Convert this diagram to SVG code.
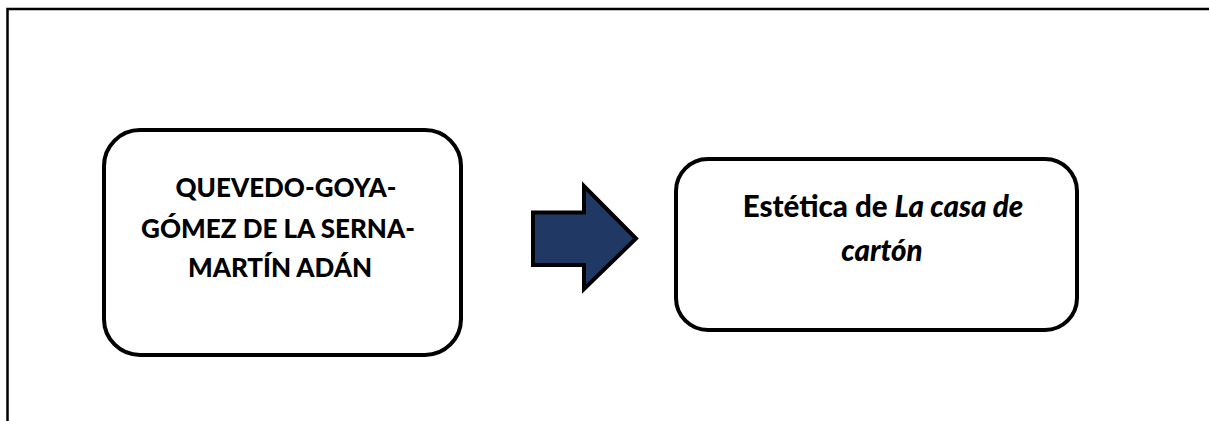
<svg xmlns="http://www.w3.org/2000/svg" width="1209" height="421" viewBox="0 0 1209 421">
  <style>
    .box { fill: #ffffff; stroke: #000000; stroke-width: 4; }
    .t { font-family: Lato, "Liberation Sans", sans-serif; font-weight: 900; font-size: 26px; fill: #000000; text-anchor: middle; }
    .t2 { font-size: 29.5px; }
    .frame { stroke: #000000; stroke-width: 2.5; fill: none; }
    .arrow { fill: #1F3864; stroke: #000000; stroke-width: 4; stroke-linejoin: miter; }
  </style>
  <rect x="0" y="0" width="1209" height="421" fill="#ffffff"/>
  <g id="frame">
    <polyline class="frame" points="7.5,421 7.5,9 1209,9"/>
  </g>
  <g id="node-left">
    <rect class="box" x="104" y="130" width="357" height="225" rx="36" ry="36"/>
    <text class="t" x="286" y="197">QUEVEDO-GOYA-</text>
    <text class="t" x="278" y="238">GÓMEZ DE LA SERNA-</text>
    <text class="t" x="280" y="277">MARTÍN ADÁN</text>
  </g>
  <g id="connectors">
    <polygon class="arrow" points="533,212.5 584,212.5 584,186 636,238.5 584,289 584,265 533,265"/>
  </g>
  <g id="node-right">
    <rect class="box" x="676" y="159" width="401" height="171" rx="32" ry="32"/>
    <text class="t t2" x="883" y="217">Estética de <tspan font-style="italic">La casa de</tspan></text>
    <text class="t t2" x="882" y="261" font-style="italic">cartón</text>
  </g>
</svg>
